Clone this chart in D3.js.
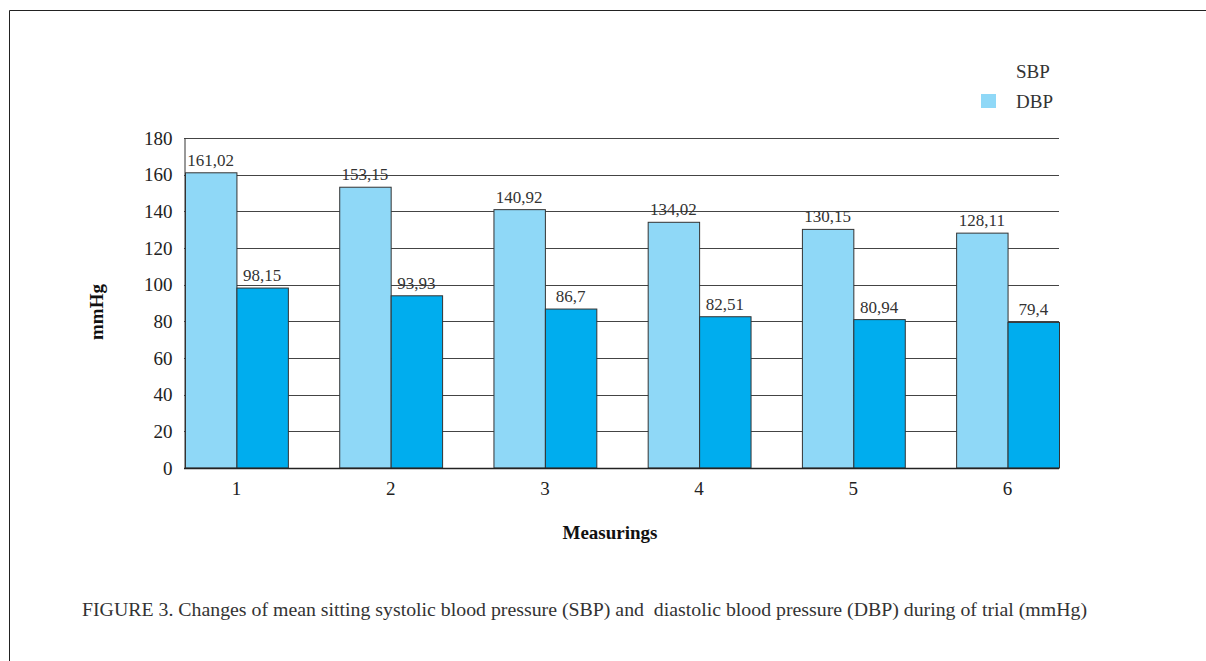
<!DOCTYPE html>
<html><head><meta charset="utf-8">
<script src="https://cdn.jsdelivr.net/npm/d3@7"></script>
<style>body{margin:0;background:#fff;} svg{display:block;}</style>
</head><body>
<svg id="c" width="1206" height="661"></svg>
<script>
const categories = ["1","2","3","4","5","6"];
const seriesNames = ["SBP","DBP"];
const sbp = [161.02,153.15,140.92,134.02,130.15,128.11];
const dbp = [98.15,93.93,86.7,82.51,80.94,79.4];
const sbpLabels = ["161,02","153,15","140,92","134,02","130,15","128,11"];
const dbpLabels = ["98,15","93,93","86,7","82,51","80,94","79,4"];
const yTicks = [0,20,40,60,80,100,120,140,160,180];

const colors = {SBP:"#8fd8f7", DBP:"#00adee"};
const font = "'Liberation Serif', 'DejaVu Serif', serif";
const svg = d3.select("#c");

// frame
svg.append("path").attr("d","M9.5,661 L9.5,10.5 L1206,10.5").attr("fill","none").attr("stroke","#222").attr("stroke-width",1);

const y = d3.scaleLinear().domain([0,180]).range([468,138]);
const x0 = d3.scaleBand().domain(categories).range([185,1059]).paddingInner(0.333).paddingOuter(0);
const x1 = d3.scaleBand().domain(seriesNames).range([0,x0.bandwidth()]);

// gridlines
svg.append("g").selectAll("line").data(yTicks.filter(d=>d>0)).join("line")
  .attr("x1",184).attr("x2",1059).attr("y1",d=>Math.round(y(d))+0.5).attr("y2",d=>Math.round(y(d))+0.5)
  .attr("stroke","#444").attr("stroke-width",1);

// y axis
const yAxis = svg.append("g").attr("transform","translate(184.5,0)")
  .call(d3.axisLeft(y).tickValues(yTicks).tickSize(0).tickPadding(12));
yAxis.select(".domain").attr("stroke","#333");
yAxis.selectAll("text").attr("font-family",font).attr("font-size",19).attr("fill","#222");

const data = categories.map((c,i)=>({c, vals:[{k:"SBP",v:sbp[i],l:sbpLabels[i]},{k:"DBP",v:dbp[i],l:dbpLabels[i]}]}));
const g = svg.append("g").selectAll("g").data(data).join("g").attr("transform",d=>`translate(${x0(d.c)},0)`);
g.selectAll("rect").data(d=>d.vals).join("rect")
  .attr("x",d=>x1(d.k)+0.5).attr("y",d=>y(d.v)).attr("width",x1.bandwidth()).attr("height",d=>468-y(d.v))
  .attr("fill",d=>colors[d.k]).attr("stroke","#333").attr("stroke-width",1);
g.selectAll("text").data(d=>d.vals).join("text")
  .attr("x",d=>x1(d.k)+x1.bandwidth()/2).attr("y",d=>y(d.v)-7)
  .attr("text-anchor","middle").attr("font-family",font).attr("font-size",17).attr("fill","#333")
  .text(d=>d.l);

// x axis
const xAxis = svg.append("g").attr("transform","translate(0,468.5)")
  .call(d3.axisBottom(x0).tickSize(0).tickPadding(13));
xAxis.select(".domain").attr("d","M184,0H1059").attr("stroke","#222").attr("stroke-width",1.5);
xAxis.selectAll("text").attr("font-family",font).attr("font-size",19).attr("fill","#222");

// axis titles
svg.append("text").attr("transform","translate(103,312) rotate(-90)").attr("text-anchor","middle")
  .attr("font-family",font).attr("font-size",19).attr("font-weight","bold").attr("fill","#111").text("mmHg");
svg.append("text").attr("x",610).attr("y",539).attr("text-anchor","middle")
  .attr("font-family",font).attr("font-size",19).attr("font-weight","bold").attr("fill","#111").text("Measurings");

// legend
const leg = svg.append("g");
seriesNames.forEach((s,i)=>{
  const yy = 72 + i*30;
  leg.append("rect").attr("x",981).attr("y",yy-8).attr("width",15).attr("height",14)
    .attr("fill", i===0 ? "#fff" : colors.SBP);
  leg.append("text").attr("x",1016).attr("y",yy+6).attr("font-family",font).attr("font-size",19).attr("fill","#333").text(s);
});

// caption
svg.append("text").attr("x",82).attr("y",616).attr("font-family",font).attr("font-size",19).attr("fill","#333")
  .attr("textLength",1005).attr("lengthAdjust","spacingAndGlyphs")
  .text("FIGURE 3. Changes of mean sitting systolic blood pressure (SBP) and  diastolic blood pressure (DBP) during of trial (mmHg)")
  .style("white-space","pre");
</script>
</body></html>
